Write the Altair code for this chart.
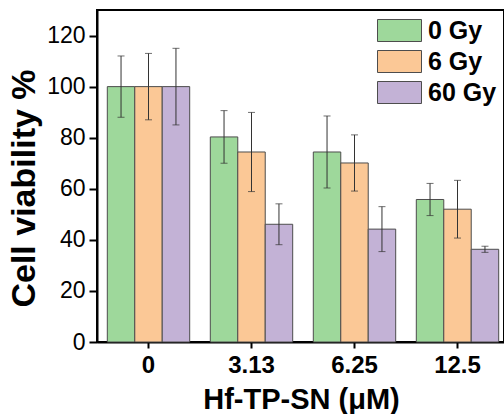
import altair as alt
import pandas as pd

conc = ["0", "3.13", "6.25", "12.5"]
doses = ["0 Gy", "6 Gy", "60 Gy"]
colors = ["#9ED89B", "#FBC896", "#C3B2D6"]

v0 = [100, 80.3, 74.4, 55.8]
e0 = [12, 10.3, 14.1, 6.3]
v6 = [100, 74.4, 70.1, 52.0]
e6 = [13, 15.5, 11, 11.3]
v60 = [100, 46.1, 44.2, 36.3]
e60 = [15, 8, 8.8, 1.2]

rows = []
for dose, vals, errs in zip(doses, [v0, v6, v60], [e0, e6, e60]):
    for c, v, e in zip(conc, vals, errs):
        rows.append({"conc": c, "dose": dose, "v": v, "lo": v - e, "hi": v + e})
df = pd.DataFrame(rows)

FONT = "Liberation Sans"

x = alt.X("conc:N", sort=conc,
          scale=alt.Scale(range=[0, 412], paddingInner=0.2, paddingOuter=0.1),
          axis=alt.Axis(title="Hf-TP-SN (μM)", labelAngle=0, labelFontSize=24,
                        labelFontWeight="bold", labelFont=FONT, labelColor="black",
                        labelPadding=5, tickSize=6, tickWidth=2, tickColor="black",
                        domainColor="black", domainWidth=2,
                        titleFontSize=29, titleFontWeight="bold", titleFont=FONT,
                        titleColor="black", titleX=204, titleY=57,
                        titleBaseline="middle", titleAlign="center"))
xo = alt.XOffset("dose:N", sort=doses,
                 scale=alt.Scale(paddingInner=0, paddingOuter=0))

yaxis = alt.Axis(title="Cell viability %",
                 values=list(range(0, 131, 10)),
                 labelExpr="datum.value % 20 == 0 ? datum.label : ''",
                 tickSize={"condition": {"test": "datum.value % 20 != 0", "value": 4}, "value": 8},
                 tickWidth=2, tickColor="black", domainColor="black", domainWidth=2,
                 labelFontSize=23, labelFont=FONT, labelColor="black", labelPadding=4,
                 titleFontSize=34, titleFontWeight="bold", titleFont=FONT,
                 titleColor="black", titleX=-73, titleY=178, titleAngle=-90,
                 titleBaseline="middle", titleAlign="center", grid=False)

base = alt.Chart(df)

bars = base.mark_bar(stroke="#4d4d4d", strokeWidth=1).encode(
    x=x, xOffset=xo,
    y=alt.Y("v:Q", scale=alt.Scale(domain=[0, 130], nice=False), axis=yaxis),
    color=alt.Color("dose:N", sort=doses,
                    scale=alt.Scale(domain=doses, range=colors),
                    legend=alt.Legend(title=None, orient="none", legendX=290, legendY=8,
                                      symbolType="M-2,-1H2V1H-2Z", symbolSize=484,
                                      symbolStrokeColor="#4d4d4d", symbolStrokeWidth=1,
                                      symbolOpacity=1,
                                      labelFontSize=25, labelFontWeight="bold",
                                      labelFont=FONT, labelColor="black",
                                      labelOffset=16, rowPadding=4, padding=0)),
)

rules = base.mark_rule(color="#333333", strokeWidth=1).encode(
    x=x, xOffset=xo, y="lo:Q", y2="hi:Q")
cap_lo = base.mark_tick(color="#333333", size=7, thickness=1).encode(
    x=x, xOffset=xo, y="lo:Q")
cap_hi = base.mark_tick(color="#333333", size=7, thickness=1).encode(
    x=x, xOffset=xo, y="hi:Q")

chart = alt.layer(bars, rules, cap_lo, cap_hi).properties(
    width=407, height=332,
    autosize=alt.AutoSizeParams(type="none"),
    padding={"left": 97, "top": 10, "right": 0, "bottom": 72},
).configure_view(stroke="black", strokeWidth=2)

chart.save("out.html", embed_options={"renderer": "svg", "actions": False})
